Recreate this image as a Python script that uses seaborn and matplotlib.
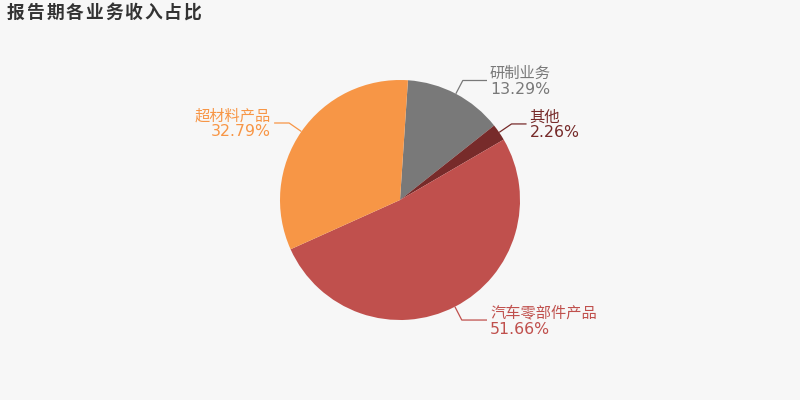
import numpy as np
import matplotlib
matplotlib.use("Agg")
import matplotlib.pyplot as plt
import seaborn as sns

# data
names = ["研制业务", "其他", "汽车零部件产品", "超材料产品"]
shares = [13.29, 2.26, 51.66, 32.79]
colors = ["#797979", "#772b2a", "#c0504d", "#f79646"]
title = "报告期各业务收入占比"

sns.set_theme(style="white")
plt.rcParams["font.family"] = ["DejaVu Sans", "Noto Sans CJK SC"]
bg = "#f7f7f7"

fig = plt.figure(figsize=(8, 4), dpi=100, facecolor=bg)
ax = fig.add_axes([0, 0, 1, 1])
ax.set_facecolor(bg)

cx, cy, r = 400, 200, 120
start = 86.2
wedges, _ = ax.pie(shares, colors=colors, startangle=start, counterclock=False,
                   center=(cx, cy), radius=r, wedgeprops=dict(linewidth=0),
                   frame=True)
ax.set_xlim(0, 800)
ax.set_ylim(0, 400)
ax.set_aspect("equal")
ax.axis("off")

# label lines: radial stub, then horizontal run to the text column
for w, name, val, col in zip(wedges, names, shares, colors):
    mid = np.deg2rad((w.theta1 + w.theta2) / 2)
    x0, y0 = cx + r * np.cos(mid), cy + r * np.sin(mid)
    x1, y1 = cx + (r + 15) * np.cos(mid), cy + (r + 15) * np.sin(mid)
    if np.cos(mid) >= 0:
        tx = max(x1 + 18, cx + 0.75 * r)
        x2, ha = tx - 3, "left"
    else:
        tx = min(x1 - 18, cx - 0.75 * r)
        x2, ha = tx + 3, "right"
    ax.plot([x0, x1, x2], [y0, y1, y1], color=col, lw=0.9, solid_capstyle="butt")
    ax.text(tx, y1 + 7, name, color=col, fontsize=11, ha=ha, va="center",
            family=["Noto Sans CJK SC", "DejaVu Sans"])
    ax.text(tx, y1 - 9, f"{val:.2f}%", color=col, fontsize=11.3, ha=ha, va="center")

# title with letter spacing
for i, ch in enumerate(title):
    fig.text((7 + i * 19.6) / 800, 1 - 13 / 400, ch, fontsize=12.8, fontweight="bold",
             color="#333333", ha="left", va="center",
             family=["Noto Sans CJK SC", "DejaVu Sans"])

fig.savefig("out.png", dpi=100, facecolor=bg)
